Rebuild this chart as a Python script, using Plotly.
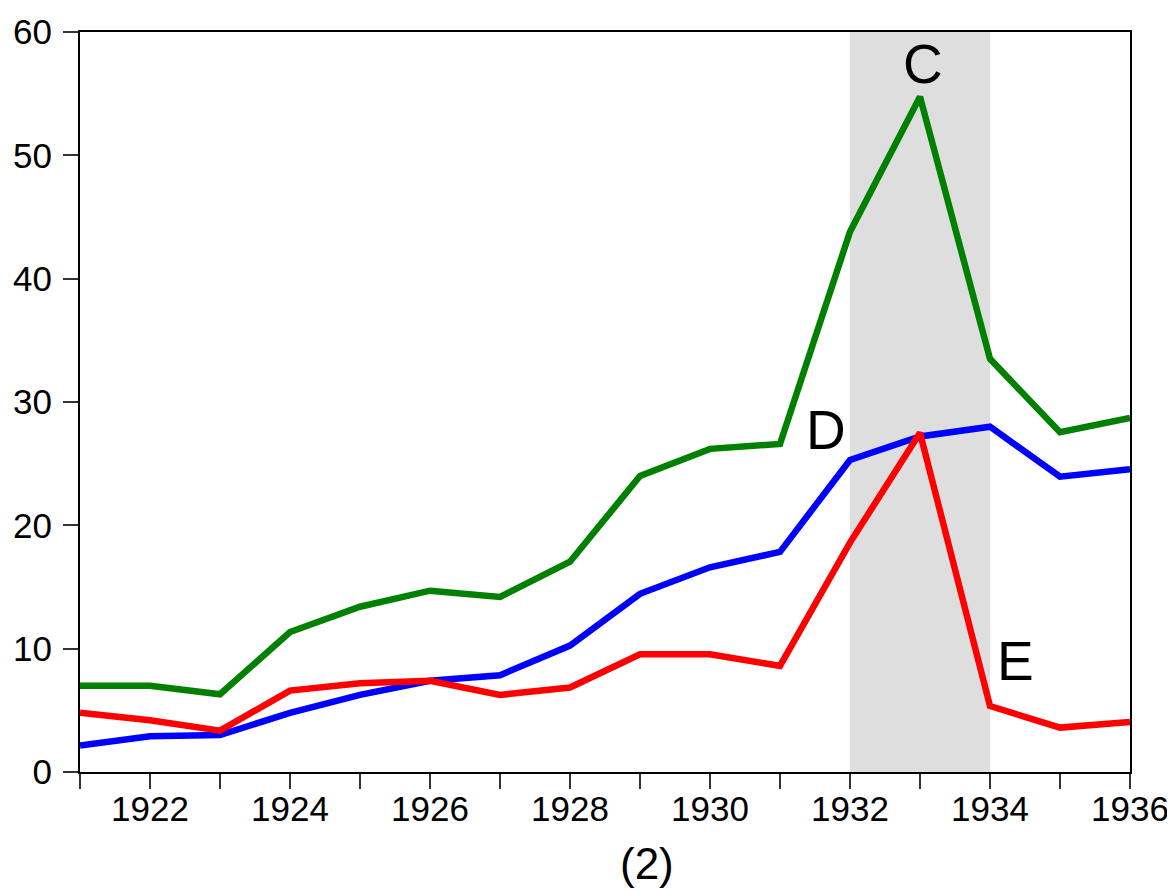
import plotly.graph_objects as go

years = list(range(1921, 1937))
series_c = [7.0, 7.0, 6.3, 11.35, 13.4, 14.7, 14.2, 17.05, 24.0, 26.2, 26.6, 43.8, 54.75, 33.5, 27.55, 28.7]
series_d = [2.15, 2.9, 3.0, 4.8, 6.25, 7.4, 7.85, 10.25, 14.45, 16.6, 17.85, 25.3, 27.2, 28.0, 23.95, 24.55]
series_e = [4.8, 4.2, 3.35, 6.6, 7.2, 7.4, 6.25, 6.85, 9.55, 9.55, 8.6, 18.6, 27.5, 5.35, 3.6, 4.05]
shade_start, shade_end = 1932, 1934
labels = [("C", 1933.04, 57.4), ("D", 1931.66, 27.7), ("E", 1934.36, 9.0)]
tick_years = years
tick_text = [str(y) if y % 2 == 0 else "" for y in years]
title_text = "(2)"

FONT = "Liberation Sans, Arial, sans-serif"

fig = go.Figure()
for vals, col in [(series_c, "#008000"), (series_d, "#0000ff"), (series_e, "#ff0000")]:
    fig.add_trace(go.Scatter(x=years, y=vals, mode="lines",
                             line=dict(color=col, width=6.5), showlegend=False))

fig.add_shape(type="rect", xref="x", yref="paper", x0=shade_start, x1=shade_end,
              y0=0, y1=1, fillcolor="#dedede", line_width=0, layer="below")

for txt, x, y in labels:
    fig.add_annotation(x=x, y=y, text=txt, showarrow=False,
                       font=dict(family=FONT, size=55, color="black"))

fig.add_annotation(x=0.54, y=-0.124, xref="paper", yref="paper", text=title_text,
                   showarrow=False, yanchor="middle",
                   font=dict(family=FONT, size=44, color="black"))

fig.update_layout(
    width=1167, height=883,
    margin=dict(l=72, r=45, t=24, b=119),
    paper_bgcolor="white", plot_bgcolor="white",
    font=dict(family=FONT, size=35, color="black"),
    xaxis=dict(range=[1921, 1936], tickvals=tick_years, ticktext=tick_text,
               ticks="outside", ticklen=15, tickwidth=1.5, tickcolor="#333",
               showline=True, linecolor="black", linewidth=2, mirror=True,
               showgrid=False, zeroline=False, ticklabelstandoff=-10,
               automargin=False),
    yaxis=dict(range=[0, 60], tickvals=[0, 10, 20, 30, 40, 50, 60],
               ticks="outside", ticklen=15, tickwidth=1.5, tickcolor="#333",
               showline=True, linecolor="black", linewidth=2, mirror=True,
               showgrid=False, zeroline=False, ticklabelstandoff=4,
               automargin=False),
)

fig.write_html("out.html")
